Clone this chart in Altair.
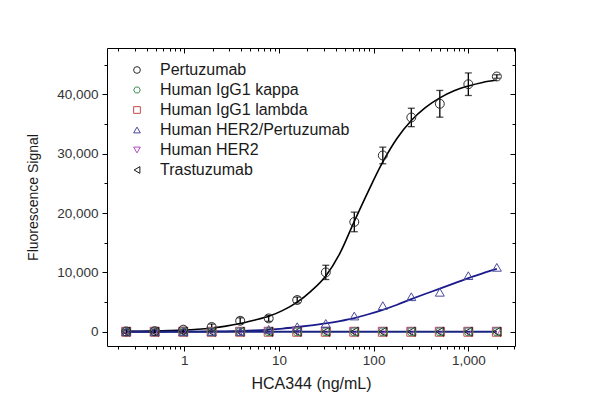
import altair as alt
import pandas as pd

# ---------------- data ----------------
series_names = ["Pertuzumab", "Human IgG1 kappa", "Human IgG1 lambda",
                "Human HER2/Pertuzumab", "Human HER2", "Trastuzumab"]
series_colors = ["#2a2a2a", "#3f8f50", "#c84848", "#4a4a9c", "#b04cc0", "#1a1a1a"]
series_shapes = ["circle", "M-1,0L-0.5,-0.866L0.5,-0.866L1,0L0.5,0.866L-0.5,0.866Z",
                 "square", "triangle-up", "triangle-down", "triangle-left"]

conc = [0.244, 0.488, 0.977, 1.95, 3.9, 7.8, 15.6, 31.25, 62.5, 125, 250, 500, 1000, 2000]
pertuzumab = [50, 100, 350, 800, 1850, 2250, 5350, 10000, 18500, 29700, 36100, 38400, 41700, 43000]
pertuzumab_err = [300, 300, 400, 500, 500, 500, 500, 1200, 1650, 1400, 1550, 2250, 1900, 300]
igg1_kappa = [0, 0, 0, 0, 0, 0, 0, 0, 0, 0, 0, 0, 0, 0]
igg1_lambda = [0, 0, 0, 0, 0, 0, 0, 0, 0, 0, 0, 0, 0, 0]
her2_pertuzumab = [0, 0, 0, 0, 50, 400, 850, 1400, 2650, 4400, 5900, 6650, 9450, 10850]
her2 = [0, 0, 0, 0, 0, 0, 0, 0, 0, 0, 0, 0, 0, 0]
trastuzumab = [0, 0, 0, 0, 0, 0, 0, 0, 0, 0, 0, 0, 0, 0]

# fitted curves
fit_conc = [0.244, 0.345, 0.488, 0.69, 0.977, 1.38, 1.95, 2.76, 3.9, 5.5, 7.8, 11, 15.6,
            22, 31.25, 44, 62.5, 88, 125, 177, 250, 354, 500, 707, 1000, 1414, 2000]
fit_pertuzumab = [60, 90, 130, 200, 290, 430, 640, 950, 1380, 1950, 2600, 3600, 5000,
                  6900, 9400, 13200, 18600, 23700, 28600, 32600, 35600, 37800, 39400,
                  40600, 41400, 42000, 42400]
fit_her2_pertuzumab = [0, 0, 0, 5, 10, 20, 40, 70, 120, 210, 350, 540, 800,
                       1080, 1400, 1800, 2300, 2950, 3700, 4550, 5500, 6400, 7250,
                       8150, 9050, 9850, 10600]
zero_line_conc = [0.244, 2000]
zero_line_val = [0, 0]

x_major = [1, 10, 100, 1000]
x_minor = [0.2, 0.3, 0.4, 0.5, 0.6, 0.7, 0.8, 0.9, 2, 3, 4, 5, 6, 7, 8, 9,
           20, 30, 40, 50, 60, 70, 80, 90, 200, 300, 400, 500, 600, 700, 800, 900, 2000, 3000]
y_major = [0, 10000, 20000, 30000, 40000]
y_minor = [5000, 15000, 25000, 35000, 45000]

# ---------------- tables ----------------
values_by_series = [pertuzumab, igg1_kappa, igg1_lambda, her2_pertuzumab, her2, trastuzumab]
pts_rows = []
draw_order = [2, 4, 5, 1, 3, 0]
for i in draw_order:
    for c, v in zip(conc, values_by_series[i]):
        pts_rows.append({"series": series_names[i], "conc": c, "value": v, "ord": draw_order.index(i)})
pts = pd.DataFrame(pts_rows)

err = pd.DataFrame({"conc": conc,
                    "lo": [v - e for v, e in zip(pertuzumab, pertuzumab_err)],
                    "hi": [v + e for v, e in zip(pertuzumab, pertuzumab_err)]})
fit_black = pd.DataFrame({"conc": fit_conc, "value": fit_pertuzumab})
fit_blue = pd.DataFrame({"conc": fit_conc, "value": fit_her2_pertuzumab})
zero_df = pd.DataFrame({"conc": zero_line_conc, "value": zero_line_val})

xscale = alt.Scale(type="log", domain=[0.153, 3110], nice=False)
yscale = alt.Scale(domain=[-2400, 47800], nice=False, zero=False)

label_font = "Liberation Sans"

ax_x_major = alt.Axis(orient="bottom", values=x_major, labelExpr="format(datum.value, ',')",
                      tickSize=5, labelPadding=2,
                      domain=False, grid=False, title="HCA344 (ng/mL)", titleFontSize=16,
                      titlePadding=9, labelFontSize=13.5)
ax_x_minor = alt.Axis(orient="bottom", values=x_minor, tickSize=3, labels=False, domain=False,
                      grid=False, title=None)
ax_x_top = alt.Axis(orient="top", values=x_major, tickSize=5, offset=-5, labels=False,
                    domain=False, grid=False, title=None)
ax_x_top_minor = alt.Axis(orient="top", values=x_minor, tickSize=3, offset=-3, labels=False,
                          domain=False, grid=False, title=None)

ax_y_major = alt.Axis(orient="left", values=y_major, labelExpr="format(datum.value, ',')",
                      tickSize=5, labelPadding=4,
                      domain=False, grid=False, title="Fluorescence Signal", titleFontSize=14,
                      titlePadding=16, labelFontSize=13.5)
ax_y_minor = alt.Axis(orient="left", values=y_minor, tickSize=3, labels=False, domain=False,
                      grid=False, title=None)
ax_y_right = alt.Axis(orient="right", values=y_major, tickSize=5, offset=-5, labels=False,
                      domain=False, grid=False, title=None)
ax_y_right_minor = alt.Axis(orient="right", values=y_minor, tickSize=3, offset=-3, labels=False,
                            domain=False, grid=False, title=None)

black_curve = alt.Chart(fit_black).mark_line(color="#000000", strokeWidth=1.6,
                                             interpolate="monotone").encode(
    x=alt.X("conc:Q", scale=xscale, axis=ax_x_major),
    y=alt.Y("value:Q", scale=yscale, axis=ax_y_major),
)
blue_curve = alt.Chart(fit_blue).mark_line(color="#1a1a8c", strokeWidth=1.8,
                                           interpolate="monotone").encode(
    x=alt.X("conc:Q", scale=xscale, axis=ax_x_minor),
    y=alt.Y("value:Q", scale=yscale, axis=ax_y_minor),
)
zero_line = alt.Chart(zero_df).mark_line(color="#1a2480", strokeWidth=1.8).encode(
    x=alt.X("conc:Q", scale=xscale, axis=ax_x_top),
    y=alt.Y("value:Q", scale=yscale, axis=ax_y_right),
)
errbars = alt.Chart(err).mark_errorbar(ticks={"size": 7}, color="#000000", thickness=1.3).encode(
    x=alt.X("conc:Q", scale=xscale, axis=None),
    y=alt.Y("lo:Q", scale=yscale, axis=None),
    y2="hi:Q",
)

legend = alt.Legend(title=None, orient="none", legendX=22, legendY=14, labelFontSize=16,
                    labelFont=label_font, labelColor="#1a1a1a", symbolSize=45,
                    symbolStrokeWidth=1, rowPadding=4, labelOffset=15, padding=0,
                    labelLimit=400, symbolFillColor="transparent")
points = alt.Chart(pts).mark_point(filled=False, size=80, strokeWidth=1, opacity=1).encode(
    x=alt.X("conc:Q", scale=xscale, axis=ax_x_top_minor),
    y=alt.Y("value:Q", scale=yscale, axis=ax_y_right_minor),
    color=alt.Color("series:N", scale=alt.Scale(domain=series_names, range=series_colors),
                    legend=legend),
    shape=alt.Shape("series:N", scale=alt.Scale(domain=series_names, range=series_shapes),
                    legend=legend),
    order=alt.Order("ord:Q"),
)

chart = alt.layer(black_curve, blue_curve, zero_line, errbars, points).resolve_axis(
    x="independent", y="independent"
).properties(
    width=408, height=298,
    autosize="none",
    padding={"left": 107, "top": 48, "right": 85, "bottom": 72},
    background="white",
).configure_view(
    stroke="#000000", strokeWidth=1
).configure_axis(
    labelFont=label_font, titleFont=label_font, labelColor="#333333", titleColor="#1a1a1a",
    tickColor="#000000", titleFontWeight="normal"
)

chart.save("out.html", embed_options={"renderer": "svg", "actions": False})
